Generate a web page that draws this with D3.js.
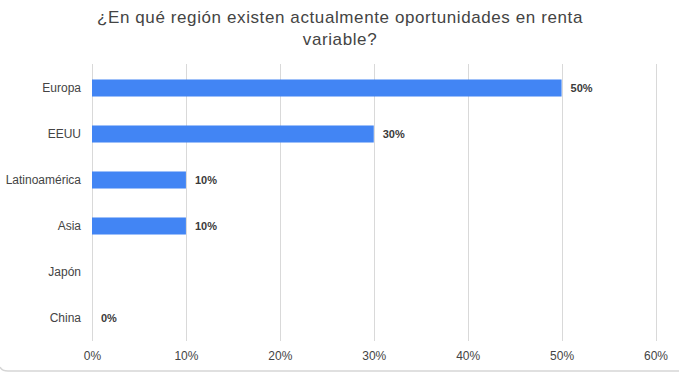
<!DOCTYPE html>
<html>
<head>
<meta charset="utf-8">
<script src="https://cdn.jsdelivr.net/npm/d3@7"></script>
<style>
  body { margin: 0; background: #fff; }
  svg { display: block; font-family: Arial, "Liberation Sans", sans-serif; }
</style>
</head>
<body>
<div id="chart"></div>
<script>
// data
var regiones = ["Europa", "EEUU", "Latinoamérica", "Asia", "Japón", "China"];
var porcentajes = [50, 30, 10, 10, null, 0];
var ticks = [0, 10, 20, 30, 40, 50, 60];
var titulo = ["¿En qué región existen actualmente oportunidades en renta", "variable?"];

var data = regiones.map(function(r, i) { return { group: r, value: porcentajes[i] }; });

var W = 679, H = 375;
var margin = {top: 65, right: 24, bottom: 35, left: 92};
var width = 655.5 - margin.left,
    height = 341 - margin.top;

var svg = d3.select("#chart")
  .append("svg")
    .attr("width", W)
    .attr("height", H);

// frame bottom border
svg.append("path")
  .attr("d", "M0,367 Q2,371 8,371 L679,371")
  .attr("fill", "none")
  .attr("stroke", "#d6d6d6")
  .attr("stroke-width", 1.5);

// title
svg.append("text")
  .attr("x", 340)
  .attr("y", 23)
  .attr("text-anchor", "middle")
  .attr("fill", "#444")
  .style("font-size", "17px")
  .style("letter-spacing", "0.6px")
  .selectAll("tspan")
  .data(titulo)
  .enter()
  .append("tspan")
    .attr("x", 340)
    .attr("dy", function(d, i) { return i == 0 ? 0 : 22; })
    .text(function(d) { return d; });

var g = svg.append("g")
  .attr("transform", "translate(" + margin.left + "," + margin.top + ")");

var x = d3.scaleLinear()
  .domain([0, 60])
  .range([0, width]);

var y = d3.scaleBand()
  .domain(regiones)
  .range([0, height])
  .paddingInner(0.63)
  .paddingOuter(0.315);

// gridlines
g.selectAll(".grid")
  .data(ticks)
  .enter()
  .append("line")
    .attr("class", "grid")
    .attr("x1", function(d) { return Math.round(x(d)) + 0.5; })
    .attr("x2", function(d) { return Math.round(x(d)) + 0.5; })
    .attr("y1", -1)
    .attr("y2", height)
    .attr("stroke", "#d9d9d9")
    .attr("stroke-width", 1);

// x axis
var xAxis = g.append("g")
  .attr("transform", "translate(0," + height + ")")
  .call(d3.axisBottom(x).tickValues(ticks).tickFormat(function(d) { return d + "%"; }).tickSize(0).tickPadding(10));
xAxis.select(".domain").remove();
xAxis.selectAll("text")
  .attr("fill", "#444")
  .style("font-size", "12px")
  .style("font-family", "Arial, 'Liberation Sans', sans-serif");

// y axis
var yAxis = g.append("g")
  .call(d3.axisLeft(y).tickSize(0).tickPadding(11));
yAxis.select(".domain").remove();
yAxis.selectAll("text")
  .attr("fill", "#444")
  .style("font-size", "12px")
  .style("font-family", "Arial, 'Liberation Sans', sans-serif");

// bars
g.selectAll("rect.bar")
  .data(data.filter(function(d) { return d.value != null; }))
  .enter()
  .append("rect")
    .attr("class", "bar")
    .attr("x", x(0))
    .attr("y", function(d) { return y(d.group); })
    .attr("width", function(d) { return x(d.value) - x(0); })
    .attr("height", y.bandwidth())
    .attr("fill", "#4285f4");

// value labels
g.selectAll("text.lbl")
  .data(data.filter(function(d) { return d.value != null; }))
  .enter()
  .append("text")
    .attr("class", "lbl")
    .attr("x", function(d) { return x(d.value) + 9; })
    .attr("y", function(d) { return y(d.group) + y.bandwidth() / 2; })
    .attr("dy", "0.35em")
    .attr("fill", "#3a3a3a")
    .style("font-size", "11px")
    .style("font-weight", "bold")
    .text(function(d) { return d.value + "%"; });
</script>
</body>
</html>
